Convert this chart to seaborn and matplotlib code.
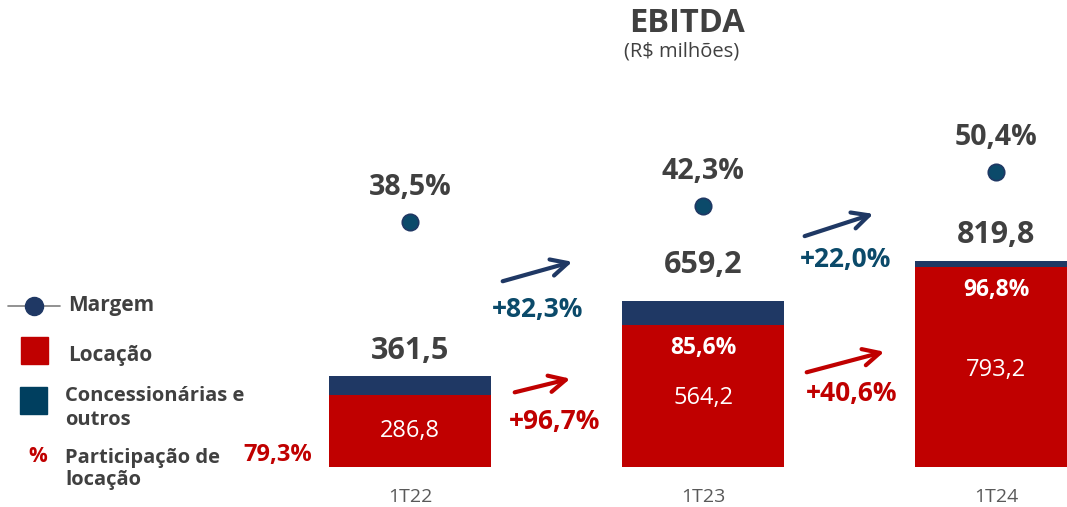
import numpy as np
import pandas as pd
import matplotlib.pyplot as plt
import seaborn as sns

# ── Data ──────────────────────────────────────────────────────────────────────
periodos = ["1T22", "1T23", "1T24"]
ebitda_total = [361.5, 659.2, 819.8]
ebitda_locacao = [286.8, 564.2, 793.2]
margem = [38.5, 42.3, 50.4]
participacao = [79.3, 85.6, 96.8]
cresc_total = [82.3, 22.0]
cresc_locacao = [96.7, 40.6]

# ── Style ─────────────────────────────────────────────────────────────────────
RED = "#C00000"
NAVY = "#1F3864"
TEAL = "#0B4A6A"
GRAY = "#404040"

sns.set_theme(style="white")
plt.rcParams["font.family"] = ["Open Sans", "DejaVu Sans"]

W, H = 1067, 507


def px(x, y):
    """pixel position (from top-left) -> figure fraction"""
    return x / W, 1 - y / H


def fmt(v, dec=1):
    return f"{v:.{dec}f}".replace(".", ",")


fig = plt.figure(figsize=(W / 100, H / 100), dpi=100)
ax = fig.add_axes([0, 40 / H, 1, 467 / H])

df = pd.DataFrame({"periodo": periodos, "total": ebitda_total, "locacao": ebitda_locacao})
sns.barplot(data=df, x="periodo", y="total", color=NAVY, width=0.556,
            saturation=1, ax=ax, edgecolor="none")
sns.barplot(data=df, x="periodo", y="locacao", color=RED, width=0.556,
            saturation=1, ax=ax, edgecolor="none")

ax.set_xlim(-1.399, 2.242)
ax.set_ylim(0, 1855)
ax.set_xlabel("")
ax.set_ylabel("")
ax.set_yticks([])
ax.set_xticks([])
for s in ax.spines.values():
    s.set_visible(False)

total_offset = [100, 143, 100]
for i, p in enumerate(periodos):
    ax.text(i, -120, p, ha="center", va="center", fontsize=14, color="#595959")
    ax.text(i, ebitda_total[i] + total_offset[i], fmt(ebitda_total[i]),
            ha="center", va="center", fontsize=22, fontweight="bold", color=GRAY)

# values inside bars
for i, frac in enumerate([0.5, 0.485, 0.485]):
    ax.text(i, ebitda_locacao[i] * frac, fmt(ebitda_locacao[i]), ha="center",
            va="center", fontsize=17, color="white")
for i in (1, 2):
    ax.text(i, ebitda_locacao[i] - 90, fmt(participacao[i]) + "%", ha="center",
            va="center", fontsize=16.5, fontweight="bold", color="white")
ax.text(-0.45, 48, fmt(participacao[0]) + "%", ha="center", va="center",
        fontsize=17, fontweight="bold", color=RED)

# margin dots on a twin axis
ax2 = ax.twinx()
sns.scatterplot(x=np.arange(len(margem)), y=margem, ax=ax2, s=140, color=TEAL,
                edgecolor=NAVY, linewidth=1.2, zorder=5)
ax2.set_ylim(-19.83, 91.36)
ax2.set_yticks([])
for s in ax2.spines.values():
    s.set_visible(False)
for i, m in enumerate(margem):
    ax2.text(i, m + 8.3, fmt(m) + "%", ha="center", va="center",
             fontsize=20.5, fontweight="bold", color=GRAY)

# growth arrows
arrows = [
    ((500, 282), (575, 261), NAVY, "+" + fmt(cresc_total[0]) + "%", (538, 310), TEAL),
    ((512, 393), (573, 378), RED, "+" + fmt(cresc_locacao[0]) + "%", (555, 421), RED),
    ((802, 237), (876, 213), NAVY, "+" + fmt(cresc_total[1]) + "%", (846, 260), TEAL),
    ((804, 373), (887, 351), RED, "+" + fmt(cresc_locacao[1]) + "%", (852, 394), RED),
]
for start, end, c, label, pos, tc in arrows:
    fig.add_artist(plt.matplotlib.patches.FancyArrowPatch(
        px(*start), px(*end), transform=fig.transFigure,
        arrowstyle="->,head_length=12,head_width=6", color=c, lw=3,
        mutation_scale=1))
    fig.text(*px(*pos), label, ha="center", va="center", fontsize=19,
             fontweight="bold", color=tc)

# title
fig.text(*px(687, 23), "EBITDA", ha="center", va="center", fontsize=23.5,
         fontweight="bold", color=GRAY)
fig.text(*px(682, 52), "(R$ milhões)", ha="center", va="center", fontsize=14.5,
         color=GRAY)

# legend (hand-drawn)
fig.add_artist(plt.Line2D([8 / W, 60 / W], [1 - 306 / H] * 2, color="#7F7F7F", lw=1.2))
fig.add_artist(plt.Line2D([34 / W], [1 - 306 / H], marker="o", markersize=13,
                          color=NAVY, markeredgecolor=NAVY))
fig.add_artist(plt.Rectangle(px(21, 364), 27 / W, 27 / H, color=RED))
fig.add_artist(plt.Rectangle(px(20, 414), 27 / W, 27 / H, color="#003F5F"))
fig.text(*px(38, 457), "%", ha="center", va="center", fontsize=15,
         fontweight="bold", color=RED)
fig.text(*px(68, 306), "Margem", ha="left", va="center", fontsize=15,
         fontweight="bold", color=GRAY)
fig.text(*px(68, 355), "Locação", ha="left", va="center", fontsize=15,
         fontweight="bold", color=GRAY)
fig.text(*px(65, 408), "Concessionárias e\noutros", ha="left", va="center",
         fontsize=14.5, fontweight="bold", color=GRAY, linespacing=1.3)
fig.text(*px(65, 469), "Participação de\nlocação", ha="left", va="center",
         fontsize=14.5, fontweight="bold", color=GRAY, linespacing=1.2)

fig.savefig("out.png", dpi=100)
